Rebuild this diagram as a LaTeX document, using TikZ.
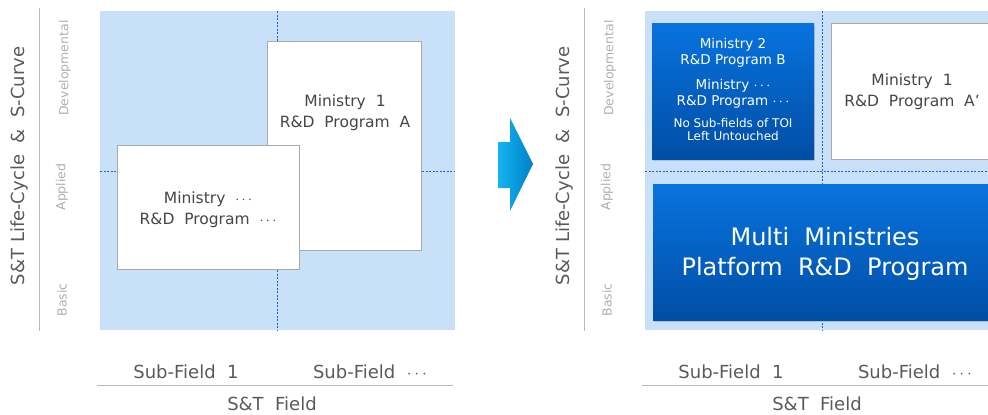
\documentclass[tikz,border=0pt]{standalone}
\usepackage{fontspec}
\setmainfont{DejaVu Sans}
\usetikzlibrary{shadows}

\definecolor{panelblue}{RGB}{200,225,249}
\definecolor{gridblue}{RGB}{25,100,200}
\definecolor{boxgray}{RGB}{170,170,170}
\definecolor{txtgray}{RGB}{70,70,70}
\definecolor{axisgray}{RGB}{90,90,90}
\definecolor{palegray}{RGB}{175,175,175}
\definecolor{linegray}{RGB}{185,185,185}
\definecolor{deepblue}{RGB}{0,78,165}
\definecolor{brightblue}{RGB}{8,115,222}
\definecolor{arrowcyan}{RGB}{20,180,240}
\definecolor{arrowblue}{RGB}{0,128,200}

\tikzset{
    whitebox/.style = {draw=boxgray, fill=white, line width=0.8pt},
    bluebox/.style = {top color=brightblue, bottom color=deepblue,
        drop shadow={opacity=0.35, shadow xshift=1pt, shadow yshift=-2pt}},
    gridline/.style = {gridblue, line width=0.6pt, dash pattern=on 2pt off 1.5pt},
    boxtext/.style = {text=txtgray, align=center, font=\fontsize{15.5}{21}\selectfont},
    bluetext/.style = {text=white, align=center, font=\fontsize{13.5}{16}\selectfont},
    stagelabel/.style = {text=palegray, rotate=90, font=\fontsize{12.5}{14}\selectfont},
    axislabel/.style = {text=axisgray, font=\fontsize{18}{20}\selectfont}
}

\begin{document}
\begin{tikzpicture}[x=1pt, y=-1pt]

    \clip (0,0) rectangle (988,415);

    % Both panels share the same axes
    \foreach \dx/\nm in {0/l, 545/r} {
        \fill[panelblue] (\dx+100,11) rectangle (\dx+455,330);
        \draw[gridline] (\dx+277,11) -- (\dx+277,330);
        \draw[gridline] (\dx+100,171) -- (\dx+455,171);

        \draw[linegray, line width=0.8pt] (\dx+39,8) -- (\dx+39,331);
        \node[axislabel, rotate=90] (\nm-cycle) at (\dx+20,166) {S\&T Life-Cycle~~\&~~S-Curve};
        \node[stagelabel] (\nm-dev) at (\dx+65,68) {Developmental};
        \node[stagelabel] (\nm-app) at (\dx+62,187) {Applied};
        \node[stagelabel] (\nm-bas) at (\dx+62,300) {Basic};

        \draw[linegray, line width=0.8pt] (\dx+97,385) -- (\dx+453,385);
        \node[axislabel] (\nm-sub1) at (\dx+186,372) {Sub-Field~~1};
        \node[axislabel] (\nm-subn) at (\dx+370,372) {Sub-Field~~$\cdots$};
        \node[axislabel] (\nm-field) at (\dx+272,404) {S\&T~~Field};
    }

    % Before: separate programs
    \draw[whitebox] (267,41) rectangle (421,250);
    \node[boxtext] (progA) at (345,113) {Ministry~~1\\R\&D~~Program~~A};
    \draw[whitebox] (117,145) rectangle (299,269);
    \node[boxtext] (progX) at (208,210) {Ministry~~$\cdots$\\R\&D~~Program~~$\cdots$};

    % Transition arrow
    \shade[left color=arrowcyan, right color=arrowblue]
        (498,142) -- (510,142) -- (510,118) -- (533,164) -- (510,211) -- (510,188) -- (498,188) -- cycle;

    % After: platform program
    \path[bluebox] (652,23) rectangle (814,159);
    \node[bluetext] (progB) at (733,53) {Ministry 2\\R\&D Program B};
    \node[bluetext] (progY) at (733,94) {Ministry $\cdots$\\R\&D Program $\cdots$};
    \node[bluetext, font=\fontsize{12}{13}\selectfont] (untouched) at (733,130) {No Sub-fields of TOI\\Left Untouched};

    \draw[whitebox] (831,23) rectangle (1000,159);
    \node[boxtext] (progA2) at (912,92) {Ministry~~1\\R\&D~~Program~~A’};

    \path[bluebox] (653,184) rectangle (1000,320);
    \node[bluetext, font=\fontsize{24}{30}\selectfont] (platform) at (825,254) {Multi~~Ministries\\Platform~~R\&D~~Program};

\end{tikzpicture}
\end{document}
